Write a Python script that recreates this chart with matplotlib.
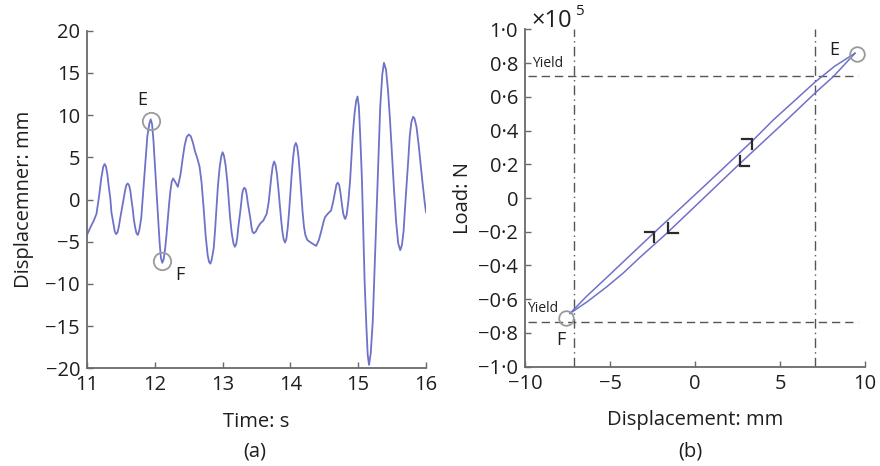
import matplotlib
matplotlib.use("Agg")
import matplotlib.pyplot as plt

plt.rcParams['font.family'] = ['Open Sans', 'DejaVu Sans']

# ---------------- data (a): displacement time history ----------------
time_s = [11.00, 11.05, 11.10, 11.14, 11.18, 11.21, 11.24, 11.26,
          11.28, 11.30, 11.32, 11.345, 11.36, 11.39, 11.41, 11.43,
          11.45, 11.47, 11.49, 11.515, 11.54, 11.56, 11.58, 11.60,
          11.62, 11.64, 11.655, 11.675, 11.69, 11.71, 11.73, 11.75,
          11.77, 11.80, 11.82, 11.845, 11.87, 11.89, 11.92, 11.94,
          11.96, 11.98, 12.00, 12.025, 12.05, 12.07, 12.09, 12.11,
          12.13, 12.15, 12.17, 12.19, 12.21, 12.23, 12.25, 12.27,
          12.30, 12.34, 12.38, 12.41, 12.44, 12.47, 12.50,
          12.53, 12.56, 12.59, 12.63, 12.66,
          12.69, 12.72, 12.75, 12.78, 12.80, 12.82,
          12.84, 12.87, 12.89, 12.91, 12.93, 12.955, 12.98, 13.00,
          13.02, 13.045, 13.07, 13.09, 13.11, 13.135, 13.16, 13.18,
          13.20, 13.215, 13.23, 13.25, 13.27, 13.285, 13.30, 13.32,
          13.34, 13.355, 13.37, 13.39, 13.41, 13.425, 13.44, 13.46,
          13.49, 13.52, 13.56, 13.60, 13.65,
          13.68, 13.70, 13.72, 13.74, 13.76,
          13.78, 13.80, 13.82, 13.84, 13.86, 13.88, 13.90, 13.92,
          13.94, 13.96, 13.98, 14.00, 14.02, 14.04, 14.06, 14.08,
          14.10, 14.12, 14.14, 14.16, 14.18, 14.20, 14.22, 14.25, 14.30, 14.34, 14.38,
          14.42, 14.46, 14.49, 14.51, 14.55, 14.60,
          14.63, 14.66, 14.68, 14.70,
          14.72, 14.74, 14.76, 14.78, 14.80, 14.81,
          14.83, 14.855, 14.88, 14.90, 14.92, 14.945, 14.97, 14.99,
          15.01, 15.03, 15.055, 15.075, 15.095, 15.12, 15.14, 15.16,
          15.185, 15.215, 15.24, 15.27, 15.30, 15.325, 15.355, 15.38,
          15.41, 15.44, 15.47, 15.50, 15.53, 15.56, 15.59, 15.62,
          15.645, 15.67, 15.69, 15.715, 15.74, 15.76, 15.785, 15.81,
          15.83, 15.86, 15.89, 15.92, 15.95, 15.98, 16.00]
disp_mm = [-4.2, -3.3, -2.5, -1.7, 0.5, 2.5, 3.9, 4.2,
           3.9, 3.0, 1.6, 0.05, -1.5, -2.9, -3.8, -4.1,
           -3.9, -3.2, -2.2, -1.1, 0.05, 1.0, 1.7, 1.9,
           1.7, 1.0, 0.0, -1.15, -2.3, -3.3, -4.0, -4.2,
           -3.7, -2.2, 0.0, 2.65, 5.3, 7.5, 9.0, 9.5,
           8.9, 7.0, 4.3, 1.0, -2.3, -5.0, -6.9, -7.5,
           -7.1, -6.0, -4.4, -2.5, -0.6, 1.0, 2.1, 2.5,
           2.1, 1.5, 3.0, 4.8, 6.4, 7.4, 7.7,
           7.5, 6.8, 5.8, 4.8, 3.9,
           2.0, -1.0, -4.3, -6.6, -7.4, -7.6,
           -7.1, -5.7, -3.5, -1.0, 1.5, 3.7, 5.1, 5.6,
           5.2, 4.0, 2.1, 0.0, -2.1, -4.0, -5.2, -5.6,
           -5.3, -4.6, -3.4, -2.1, -0.8, 0.4, 1.1, 1.4,
           1.2, 0.6, -0.3, -1.3, -2.3, -3.2, -3.8, -4.0,
           -3.8, -3.3, -2.8, -2.5, -1.7,
           -0.3, 1.3, 2.8, 4.0, 4.5,
           4.1, 3.1, 1.5, -0.3, -2.1, -3.7, -4.7, -5.1,
           -4.7, -3.4, -1.5, 0.8, 3.1, 5.0, 6.3, 6.7,
           6.3, 5.0, 3.0, 0.8, -1.5, -3.2, -4.2, -4.8, -5.1, -5.3, -5.5,
           -4.8, -3.6, -2.6, -2.1, -1.7, -1.3,
           -0.3, 1.0, 1.8, 2.0,
           1.7, 0.7, -0.6, -1.7, -2.2, -2.3,
           -1.8, -0.2, 2.2, 5.0, 7.7, 10.1, 11.7, 12.2,
           11.0, 7.5, 2.4, -3.7, -9.8, -14.9, -18.4, -19.6,
           -18.2, -14.4, -8.5, -1.7, 5.1, 11.0, 14.8, 16.2,
           15.4, 12.9, 9.3, 5.1, 0.9, -2.7, -5.2, -6.0,
           -5.4, -3.7, -1.1, 1.9, 4.9, 7.5, 9.2, 9.8,
           9.6, 8.6, 6.6, 4.2, 1.9, -0.3, -1.5]
pointE_a = (11.94, 9.3)
pointF_a = (12.11, -7.3)

a_xticks = [11, 12, 13, 14, 15, 16]
a_yticks = [20, 15, 10, 5, 0, -5, -10, -15, -20]
a_yticklabels = ['20', '15', '10', '5', '0', '\u22125', '\u221210', '\u221215', '\u221220']

# ---------------- data (b): load-displacement loop ----------------
loading_disp = [-7.35, -6.4, -5.35, -3.24, -2.45, 0.7, 3.43, 4.6, 6.0, 7.06, 8.2, 9.41]
loading_load = [-0.684, -0.585, -0.486, -0.285, -0.21, 0.085, 0.344, 0.462, 0.59, 0.687, 0.78, 0.858]
unloading_disp = [9.41, 8.14, 7.06, 5.39, 2.65, -1.67, -3.24, -4.2, -5.2, -6.3, -7.35]
unloading_load = [0.858, 0.72, 0.622, 0.462, 0.205, -0.21, -0.352, -0.443, -0.527, -0.612, -0.684]

yield_disp = [-7.1, 7.06]
yield_load = [0.722, -0.733]
pointE_b = (9.51, 0.853)
pointF_b = (-7.59, -0.713)

# half-arrow corners: (x, y, kind)  'up' = corner on loading branch, 'down' = corner on unloading branch
arrow_marks = [(3.33, 0.348, 'up'), (-2.39, -0.20, 'up'),
               (2.65, 0.19, 'down'), (-1.57, -0.21, 'down')]

b_xticks = [-10, -5, 0, 5, 10]
b_xticklabels = ['\u221210', '\u22125', '0', '5', '10']
b_yticks = [1.0, 0.8, 0.6, 0.4, 0.2, 0.0, -0.2, -0.4, -0.6, -0.8, -1.0]
b_yticklabels = ['1\u00b70', '0\u00b78', '0\u00b76', '0\u00b74', '0\u00b72', '0',
                 '\u22120\u00b72', '\u22120\u00b74', '\u22120\u00b76', '\u22120\u00b78', '\u22121\u00b70']

# ---------------- styling ----------------
LINE = '#6e72c8'
SPINE = '#6a6a6a'
TXT = '#1e1e1e'
CIRC = '#9a9a9a'
REF = '#555555'
FS = 14.5

fig = plt.figure(figsize=(8.8, 4.66), dpi=100)
fig.patch.set_facecolor('white')

def style_axes(ax):
    for s in ['top', 'right']:
        ax.spines[s].set_visible(False)
    for s in ['left', 'bottom']:
        ax.spines[s].set_color(SPINE)
        ax.spines[s].set_linewidth(1.3)
    ax.tick_params(direction='in', length=4, width=1.0, color=SPINE,
                   labelsize=FS, labelcolor=TXT)
    ax.tick_params(axis='y', pad=5)
    ax.tick_params(axis='x', pad=5)

# ---- panel (a)
ax1 = fig.add_axes([87/880, 1 - 368.3/466, 339/880, 337.6/466])
ax1.plot(time_s, disp_mm, color=LINE, lw=1.3, solid_joinstyle='round')
ax1.set_xlim(11, 16)
ax1.set_ylim(-20, 20)
ax1.set_xticks(a_xticks)
ax1.set_yticks(a_yticks)
ax1.set_yticklabels(a_yticklabels)
style_axes(ax1)
for p in (pointE_a, pointF_a):
    ax1.plot([p[0]], [p[1]], marker='o', ms=12.5, mfc='none', mec=CIRC, mew=1.3)
ax1.text(11.82, 11.8, 'E', fontsize=13, color=TXT, ha='center', va='center')
ax1.text(12.37, -9.0, 'F', fontsize=13, color=TXT, ha='center', va='center')
ax1.set_xlabel('Time: s', fontsize=FS, color=TXT, labelpad=12)
ax1.set_ylabel('Displacemner: mm', fontsize=FS, color=TXT, labelpad=8)
fig.text(255/880, 1 - 452/466, '(a)', fontsize=FS, color=TXT, ha='center', va='center')

# ---- panel (b)
ax2 = fig.add_axes([525/880, 1 - 366.7/466, 340/880, 337.4/466])
ax2.set_xlim(-10, 10)
ax2.set_ylim(-1.0, 1.0)
for xv in yield_disp:
    ax2.plot([xv, xv], [-1.0, 1.0], color=REF, lw=1.0, ls=(0, (7, 3, 1, 3)))
for yv in yield_load:
    ax2.plot([-9.85, 9.6], [yv, yv], color=REF, lw=1.0, ls=(0, (6, 3.5)))
ax2.plot(loading_disp, loading_load, color=LINE, lw=1.1)
ax2.plot(unloading_disp, unloading_load, color=LINE, lw=1.1)
dx, dy = 0.55, 0.06
for (x, y, kind) in arrow_marks:
    if kind == 'up':
        ax2.plot([x - dx, x, x], [y, y, y - dy], color='#2a2a2a', lw=1.6,
                 solid_joinstyle='miter')
    else:
        ax2.plot([x, x, x + dx], [y + dy, y, y], color='#2a2a2a', lw=1.6,
                 solid_joinstyle='miter')
for p in (pointE_b, pointF_b):
    ax2.plot([p[0]], [p[1]], marker='o', ms=10.5, mfc='none', mec=CIRC, mew=1.3)
ax2.set_xticks(b_xticks)
ax2.set_xticklabels(b_xticklabels)
ax2.set_yticks(b_yticks)
ax2.set_yticklabels(b_yticklabels)
style_axes(ax2)
ax2.text(-9.6, 0.755, 'Yield', fontsize=10, color=TXT, ha='left', va='bottom')
ax2.text(-9.9, -0.70, 'Yield', fontsize=10, color=TXT, ha='left', va='bottom')
ax2.text(8.18, 0.877, 'E', fontsize=13, color=TXT, ha='center', va='center')
ax2.text(-7.88, -0.84, 'F', fontsize=13, color=TXT, ha='center', va='center')
ax2.text(0.02, 0.99, '\u00d710', transform=ax2.transAxes, fontsize=17,
         color=TXT, ha='left', va='bottom')
ax2.text(0.148, 1.03, '5', transform=ax2.transAxes, fontsize=11,
         color=TXT, ha='left', va='bottom')
ax2.set_xlabel('Displacement: mm', fontsize=FS, color=TXT, labelpad=12)
ax2.set_ylabel('Load: N', fontsize=FS, color=TXT, labelpad=4)
fig.text(690/880, 1 - 452/466, '(b)', fontsize=FS, color=TXT, ha='center', va='center')

fig.savefig('out.png', dpi=100, facecolor='white')
